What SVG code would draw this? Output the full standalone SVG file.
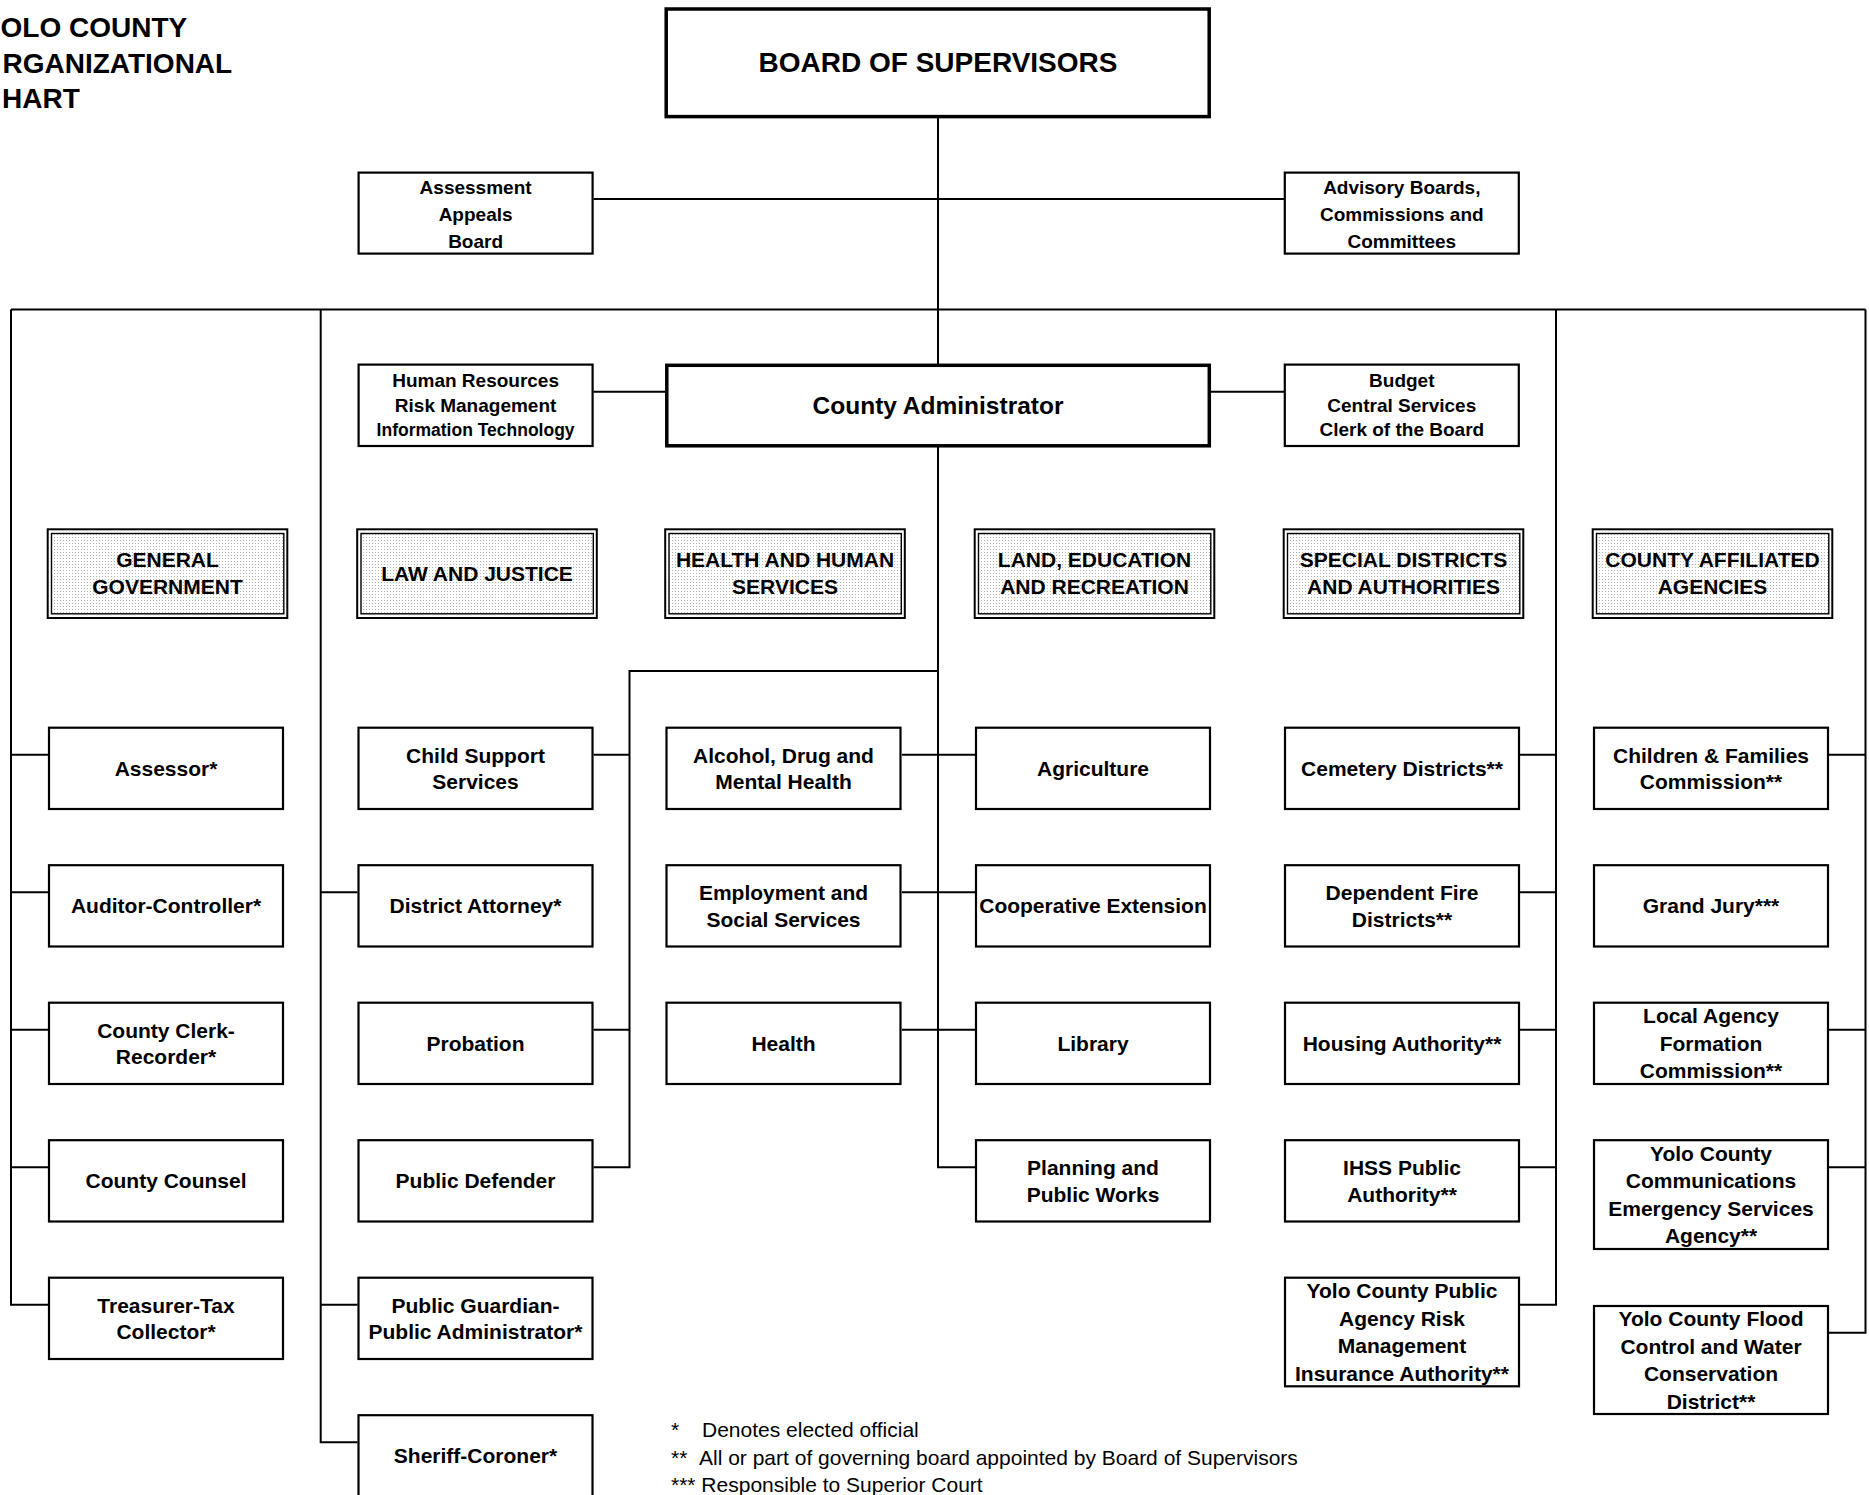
<svg xmlns="http://www.w3.org/2000/svg" width="1869" height="1495" viewBox="0 0 1869 1495">
<defs>
<pattern id="dots" width="3" height="3" patternUnits="userSpaceOnUse"><rect width="3" height="3" fill="#ffffff"/><rect width="1" height="1" fill="#b4b4b4"/></pattern>
<style>
.box{fill:#fff;stroke:#000;stroke-width:2.2}
.big{fill:#fff;stroke:#000;stroke-width:3.5}
.hdo{fill:#fff;stroke:#000;stroke-width:2}
.hdi{fill:url(#dots);stroke:#000;stroke-width:1.4}
.conn{fill:none;stroke:#000;stroke-width:2}
text{font-family:"Liberation Sans",Arial,Helvetica,sans-serif;fill:#000}
.t{font-weight:bold;font-size:21px;text-anchor:middle}
.s{font-weight:bold;font-size:19px;text-anchor:middle}
.xs{font-size:17.5px}
.title{font-weight:bold;font-size:28px}
.note{font-size:21px}
</style>
</defs>

<g id="title">
<text class="title" x="0.5" y="36.7">OLO COUNTY</text>
<text class="title" x="2.5" y="72.7">RGANIZATIONAL</text>
<text class="title" x="2" y="108.3">HART</text>
</g>

<g id="connectors">
<path class="conn" d="M11 309.5 H1865.5 M938 117 V364 M593.5 199 H1284 M593.5 391.7 H665 M1211 391.7 H1284 M938 447 V1167.2 H975 M938 671 H629.5 V1167.2 H593.5 M593.5 754.7 H629.5 M593.5 1029.7 H629.5 M902 754.7 H975 M902 892.2 H975 M902 1029.7 H975 M11 309.5 V1304.7 H48 M11 754.7 H48 M11 892.2 H48 M11 1029.7 H48 M11 1167.2 H48 M320.7 309.5 V1442.2 H357.5 M320.7 892.2 H357.5 M320.7 1304.7 H357.5 M1556 309.5 V1304.7 H1520 M1520 754.7 H1556 M1520 892.2 H1556 M1520 1029.7 H1556 M1520 1167.2 H1556 M1865.5 309.5 V1332.7 H1829 M1829 754.7 H1865.5 M1829 1029.7 H1865.5 M1829 1167.2 H1865.5"/>
</g>

<g id="board">
<rect class="big" x="666.2" y="9" width="543" height="107.6"/>
<text class="t" x="938" y="72" style="font-size:28px">BOARD OF SUPERVISORS</text>
</g>

<g id="assessment-appeals">
<rect class="box" x="358.6" y="172.6" width="234" height="81"/>
<text class="s" x="475.6" y="193.5">Assessment</text>
<text class="s" x="475.6" y="221">Appeals</text>
<text class="s" x="475.6" y="248">Board</text>
</g>

<g id="advisory">
<rect class="box" x="1284.8" y="172.6" width="234" height="81"/>
<text class="s" x="1401.8" y="193.5">Advisory Boards,</text>
<text class="s" x="1401.8" y="221">Commissions and</text>
<text class="s" x="1401.8" y="248">Committees</text>
</g>

<g id="county-administrator">
<rect class="big" x="666.8" y="365.3" width="542.5" height="80.5"/>
<text class="t" x="938" y="414" style="font-size:24.5px">County Administrator</text>
</g>

<g id="hr">
<rect class="box" x="358.6" y="364.6" width="234" height="81.4"/>
<text class="s" x="475.6" y="387.3">Human Resources</text>
<text class="s" x="475.6" y="411.8">Risk Management</text>
<text class="s xs" x="475.6" y="435.5">Information Technology</text>
</g>

<g id="budget">
<rect class="box" x="1284.8" y="364.6" width="234" height="81.4"/>
<text class="s" x="1401.8" y="387">Budget</text>
<text class="s" x="1401.8" y="411.5">Central Services</text>
<text class="s" x="1401.8" y="435.7">Clerk of the Board</text>
</g>

<g id="hd-general">
<rect class="hdo" x="47.7" y="529.3" width="239.6" height="88.7"/>
<rect class="hdi" x="51.5" y="533.5" width="232.3" height="80.3"/>
<text class="t" x="167.5" y="566.7">GENERAL</text>
<text class="t" x="167.5" y="594">GOVERNMENT</text>
</g>
<g id="hd-law">
<rect class="hdo" x="357.2" y="529.3" width="239.6" height="88.7"/>
<rect class="hdi" x="361" y="533.5" width="232.3" height="80.3"/>
<text class="t" x="477" y="580.5">LAW AND JUSTICE</text>
</g>
<g id="hd-health">
<rect class="hdo" x="665.2" y="529.3" width="239.6" height="88.7"/>
<rect class="hdi" x="669" y="533.5" width="232.3" height="80.3"/>
<text class="t" x="785" y="566.7">HEALTH AND HUMAN</text>
<text class="t" x="785" y="594">SERVICES</text>
</g>
<g id="hd-land">
<rect class="hdo" x="974.7" y="529.3" width="239.6" height="88.7"/>
<rect class="hdi" x="978.5" y="533.5" width="232.3" height="80.3"/>
<text class="t" x="1094.5" y="566.7">LAND, EDUCATION</text>
<text class="t" x="1094.5" y="594">AND RECREATION</text>
</g>
<g id="hd-special">
<rect class="hdo" x="1283.7" y="529.3" width="239.6" height="88.7"/>
<rect class="hdi" x="1287.5" y="533.5" width="232.3" height="80.3"/>
<text class="t" x="1403.5" y="566.7">SPECIAL DISTRICTS</text>
<text class="t" x="1403.5" y="594">AND AUTHORITIES</text>
</g>
<g id="hd-affiliated">
<rect class="hdo" x="1592.7" y="529.3" width="239.6" height="88.7"/>
<rect class="hdi" x="1596.5" y="533.5" width="232.3" height="80.3"/>
<text class="t" x="1712.5" y="566.7">COUNTY AFFILIATED</text>
<text class="t" x="1712.5" y="594">AGENCIES</text>
</g>

<g id="assessor"><rect class="box" x="49" y="727.7" width="234" height="81.3"/><text class="t" x="166" y="775.85">Assessor*</text></g>
<g id="auditor"><rect class="box" x="49" y="865.2" width="234" height="81.3"/><text class="t" x="166" y="913.35">Auditor-Controller*</text></g>
<g id="clerk-recorder"><rect class="box" x="49" y="1002.7" width="234" height="81.3"/><text class="t" x="166" y="1037.55">County Clerk-</text><text class="t" x="166" y="1064.15">Recorder*</text></g>
<g id="county-counsel"><rect class="box" x="49" y="1140.2" width="234" height="81.3"/><text class="t" x="166" y="1188.35">County Counsel</text></g>
<g id="treasurer"><rect class="box" x="49" y="1277.7" width="234" height="81.3"/><text class="t" x="166" y="1312.55">Treasurer-Tax</text><text class="t" x="166" y="1339.15">Collector*</text></g>

<g id="child-support"><rect class="box" x="358.5" y="727.7" width="234" height="81.3"/><text class="t" x="475.5" y="762.55">Child Support</text><text class="t" x="475.5" y="789.15">Services</text></g>
<g id="district-attorney"><rect class="box" x="358.5" y="865.2" width="234" height="81.3"/><text class="t" x="475.5" y="913.35">District Attorney*</text></g>
<g id="probation"><rect class="box" x="358.5" y="1002.7" width="234" height="81.3"/><text class="t" x="475.5" y="1050.85">Probation</text></g>
<g id="public-defender"><rect class="box" x="358.5" y="1140.2" width="234" height="81.3"/><text class="t" x="475.5" y="1188.35">Public Defender</text></g>
<g id="public-guardian"><rect class="box" x="358.5" y="1277.7" width="234" height="81.3"/><text class="t" x="475.5" y="1312.55">Public Guardian-</text><text class="t" x="475.5" y="1339.15">Public Administrator*</text></g>
<g id="sheriff"><rect class="box" x="358.5" y="1415.2" width="234" height="81.3"/><text class="t" x="475.5" y="1463.35">Sheriff-Coroner*</text></g>

<g id="adm-health"><rect class="box" x="666.5" y="727.7" width="234" height="81.3"/><text class="t" x="783.5" y="762.55">Alcohol, Drug and</text><text class="t" x="783.5" y="789.15">Mental Health</text></g>
<g id="employment"><rect class="box" x="666.5" y="865.2" width="234" height="81.3"/><text class="t" x="783.5" y="900.05">Employment and</text><text class="t" x="783.5" y="926.65">Social Services</text></g>
<g id="health"><rect class="box" x="666.5" y="1002.7" width="234" height="81.3"/><text class="t" x="783.5" y="1050.85">Health</text></g>

<g id="agriculture"><rect class="box" x="976" y="727.7" width="234" height="81.3"/><text class="t" x="1093" y="775.85">Agriculture</text></g>
<g id="coop-extension"><rect class="box" x="976" y="865.2" width="234" height="81.3"/><text class="t" x="1093" y="913.35">Cooperative Extension</text></g>
<g id="library"><rect class="box" x="976" y="1002.7" width="234" height="81.3"/><text class="t" x="1093" y="1050.85">Library</text></g>
<g id="planning"><rect class="box" x="976" y="1140.2" width="234" height="81.3"/><text class="t" x="1093" y="1175.05">Planning and</text><text class="t" x="1093" y="1201.65">Public Works</text></g>

<g id="cemetery"><rect class="box" x="1285" y="727.7" width="234" height="81.3"/><text class="t" x="1402" y="775.85">Cemetery Districts**</text></g>
<g id="fire"><rect class="box" x="1285" y="865.2" width="234" height="81.3"/><text class="t" x="1402" y="900.05">Dependent Fire</text><text class="t" x="1402" y="926.65">Districts**</text></g>
<g id="housing"><rect class="box" x="1285" y="1002.7" width="234" height="81.3"/><text class="t" x="1402" y="1050.85">Housing Authority**</text></g>
<g id="ihss"><rect class="box" x="1285" y="1140.2" width="234" height="81.3"/><text class="t" x="1402" y="1175.05">IHSS Public</text><text class="t" x="1402" y="1201.65">Authority**</text></g>
<g id="parma"><rect class="box" x="1285" y="1277.7" width="234" height="108.6"/><text class="t" x="1402" y="1298.25">Yolo County Public</text><text class="t" x="1402" y="1325.75">Agency Risk</text><text class="t" x="1402" y="1353.25">Management</text><text class="t" x="1402" y="1380.75">Insurance Authority**</text></g>

<g id="first5"><rect class="box" x="1594" y="727.7" width="234" height="81.3"/><text class="t" x="1711" y="762.55">Children &amp; Families</text><text class="t" x="1711" y="789.15">Commission**</text></g>
<g id="grand-jury"><rect class="box" x="1594" y="865.2" width="234" height="81.3"/><text class="t" x="1711" y="913.35">Grand Jury***</text></g>
<g id="lafco"><rect class="box" x="1594" y="1002.7" width="234" height="81.3"/><text class="t" x="1711" y="1023.35">Local Agency</text><text class="t" x="1711" y="1050.85">Formation</text><text class="t" x="1711" y="1078.35">Commission**</text></g>
<g id="yolo-comm"><rect class="box" x="1594" y="1140.2" width="234" height="108.8"/><text class="t" x="1711" y="1160.85">Yolo County</text><text class="t" x="1711" y="1188.35">Communications</text><text class="t" x="1711" y="1215.85">Emergency Services</text><text class="t" x="1711" y="1243.35">Agency**</text></g>
<g id="flood"><rect class="box" x="1594" y="1306" width="234" height="108"/><text class="t" x="1711" y="1326.25">Yolo County Flood</text><text class="t" x="1711" y="1353.75">Control and Water</text><text class="t" x="1711" y="1381.25">Conservation</text><text class="t" x="1711" y="1408.75">District**</text></g>

<g id="notes">
<text class="note" y="1437.3"><tspan x="671">*</tspan><tspan x="702">Denotes elected official</tspan></text>
<text class="note" y="1464.8"><tspan x="671">**</tspan><tspan x="699">All or part of governing board appointed by Board of Supervisors</tspan></text>
<text class="note" x="671" y="1492.3">*** Responsible to Superior Court</text>
</g>
</svg>
